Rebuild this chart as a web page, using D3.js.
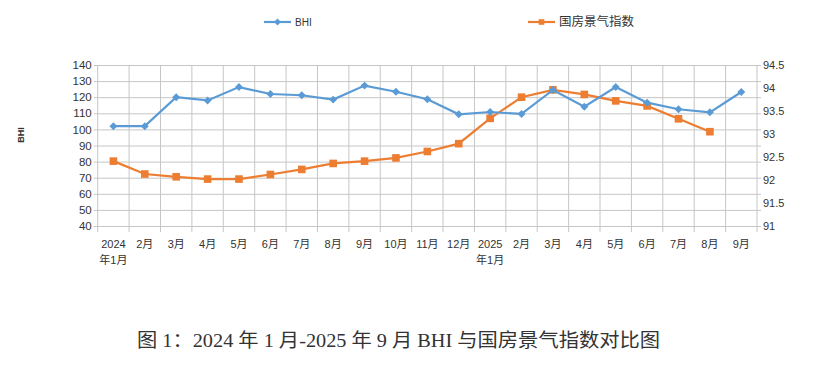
<!DOCTYPE html>
<html>
<head>
<meta charset="utf-8">
<script src="https://cdn.jsdelivr.net/npm/d3@7"></script>
<style>
  body { margin: 0; background: #fff; }
  svg { display: block; }
  text { font-family: "Liberation Sans", "Noto Sans CJK SC", sans-serif; fill: #333; }
</style>
</head>
<body>
<svg id="chart"></svg>
<script>
// months on the x axis (two-line labels split on \n)
const months = ["2024\n年1月", "2月", "3月", "4月", "5月", "6月", "7月", "8月", "9月", "10月", "11月", "12月",
  "2025\n年1月", "2月", "3月", "4月", "5月", "6月", "7月", "8月", "9月"];
// BHI, left axis
const bhi = [102, 102, 120, 118, 126.3, 122, 121.2, 118.5, 127.2, 123.4, 118.7, 109.4,
  110.8, 109.6, 124.5, 114.1, 126.3, 116.6, 112.5, 110.6, 123.2];
// 国房景气指数, right axis (no value for 2025-09)
const guofang = [92.41, 92.13, 92.07, 92.02, 92.02, 92.12, 92.23, 92.36, 92.41, 92.48, 92.62, 92.79,
  93.34, 93.80, 93.96, 93.86, 93.72, 93.61, 93.33, 93.05, null];
const leftTicks = [40, 50, 60, 70, 80, 90, 100, 110, 120, 130, 140];
const rightTicks = [91, 91.5, 92, 92.5, 93, 93.5, 94, 94.5];

const width = 813, height = 376;
const m = { left: 97.7, right: 757, top: 65, bottom: 226 };
const blue = "#5b9bd5", orange = "#ed7d31", grid = "#c6c6c6";

const svg = d3.select("#chart").attr("width", width).attr("height", height);

const idx = d3.range(months.length);
const x = d3.scaleBand().domain(idx).range([m.left, m.right]);
const cx = i => x(i) + x.bandwidth() / 2;
const yL = d3.scaleLinear().domain([40, 140]).range([m.bottom, m.top]);
const yR = d3.scaleLinear().domain([91, 94.5]).range([m.bottom, m.top]);

// horizontal grid + left labels
const gL = svg.append("g").attr("transform", `translate(${m.left},0)`)
  .call(d3.axisLeft(yL).tickValues(leftTicks).tickSize(4).tickPadding(2));
gL.select(".domain").remove();
gL.selectAll(".tick line").attr("stroke", grid);
gL.selectAll(".tick").append("line")
  .attr("x1", 0).attr("x2", m.right - m.left + 4).attr("stroke", grid);
gL.selectAll(".tick text").style("font-size", "11.5px").attr("fill", "#333");

// right labels
const gR = svg.append("g").attr("transform", `translate(${m.right},0)`)
  .call(d3.axisRight(yR).tickValues(rightTicks).tickSize(0).tickPadding(6).tickFormat(d => String(d)));
gR.select(".domain").remove();
gR.selectAll(".tick text").style("font-size", "11px").attr("fill", "#333");

// vertical grid at band boundaries
const bounds = idx.map(i => x(i)).concat([m.right]);
svg.append("g").selectAll("line").data(bounds).join("line")
  .attr("x1", d => d).attr("x2", d => d)
  .attr("y1", m.top).attr("y2", m.bottom + 6)
  .attr("stroke", grid);

// x labels
const gX = svg.append("g").attr("transform", `translate(0,${m.bottom})`)
  .call(d3.axisBottom(x).tickSize(0).tickPadding(14).tickFormat(i => months[i]));
gX.select(".domain").remove();
gX.selectAll(".tick text").each(function(i) {
  const t = d3.select(this).text(null).style("font-size", "11px").attr("fill", "#333");
  months[i].split("\n").forEach((s, k) => {
    t.append("tspan").attr("x", 0).attr("dy", k === 0 ? "0.71em" : "1.45em").text(s);
  });
});

// orange line (right axis)
svg.append("path")
  .datum(idx.filter(i => guofang[i] != null))
  .attr("fill", "none").attr("stroke", orange).attr("stroke-width", 2.2)
  .attr("d", d3.line().x(cx).y(i => yR(guofang[i])));
svg.append("g").selectAll("rect").data(idx.filter(i => guofang[i] != null)).join("rect")
  .attr("x", i => cx(i) - 3.8).attr("y", i => yR(guofang[i]) - 3.8)
  .attr("width", 7.6).attr("height", 7.6).attr("fill", orange);

// blue line (left axis)
svg.append("path")
  .datum(idx)
  .attr("fill", "none").attr("stroke", blue).attr("stroke-width", 2.2)
  .attr("d", d3.line().x(cx).y(i => yL(bhi[i])));
svg.append("g").selectAll("path").data(idx).join("path")
  .attr("transform", i => `translate(${cx(i)},${yL(bhi[i])})`)
  .attr("d", d3.symbol(d3.symbolDiamond2, 40))
  .attr("fill", blue);

// y axis title
svg.append("text")
  .attr("transform", "translate(21,135) rotate(-90)")
  .attr("text-anchor", "middle").attr("dy", "0.35em")
  .style("font-size", "9px").style("font-weight", "bold")
  .text("BHI");

// legend
const legend = [
  { label: "BHI", color: blue, x: 264, shape: "diamond", size: "10px" },
  { label: "国房景气指数", color: orange, x: 528, shape: "square", size: "12.5px" }
];
const lg = svg.append("g").selectAll("g").data(legend).join("g")
  .attr("transform", d => `translate(${d.x},22)`);
lg.append("line").attr("x1", 0).attr("x2", 27)
  .attr("stroke", d => d.color).attr("stroke-width", 2.2);
lg.append("path")
  .attr("transform", "translate(13.5,0)")
  .attr("d", d => d.shape === "diamond" ? d3.symbol(d3.symbolDiamond2, 30)() : d3.symbol(d3.symbolSquare2, 40)())
  .attr("fill", d => d.color);
lg.append("text").attr("x", 31).attr("dy", "0.35em")
  .style("font-size", d => d.size).text(d => d.label);

// caption
svg.append("text")
  .attr("x", 137).attr("y", 347)
  .attr("textLength", 523).attr("lengthAdjust", "spacingAndGlyphs")
  .style("font-family", "'Liberation Serif', 'Noto Sans CJK SC', serif")
  .style("font-size", "19px").attr("fill", "#222")
  .text("图 1：2024 年 1 月-2025 年 9 月 BHI 与国房景气指数对比图");
</script>
</body>
</html>
